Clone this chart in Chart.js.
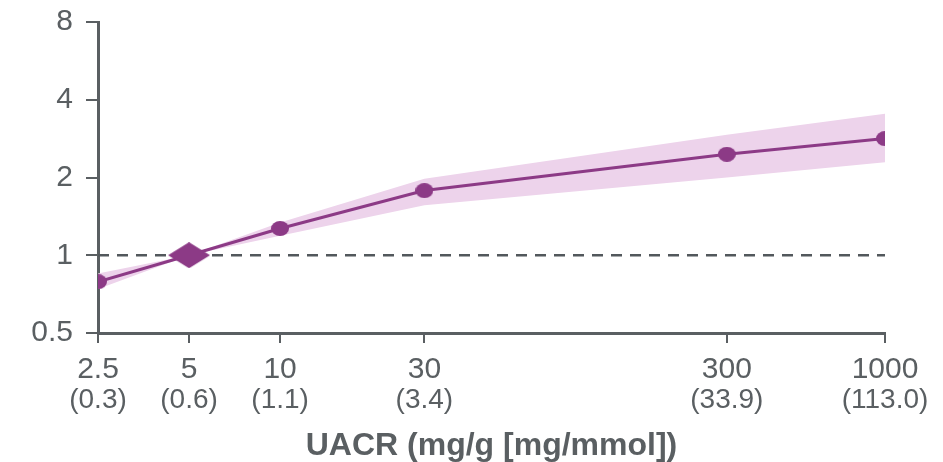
<!DOCTYPE html>
<html>
<head>
<meta charset="utf-8">
<script src="https://cdn.jsdelivr.net/npm/chart.js@4.4.1/dist/chart.umd.min.js"></script>
<style>
  body { margin: 0; background: #ffffff; }
  canvas { display: block; }
</style>
</head>
<body>
<canvas id="chart" width="943" height="462"></canvas>
<script>
const uacrValues = [2.5, 5, 10, 30, 300, 1000];
const mmolLabels = ['(0.3)', '(0.6)', '(1.1)', '(3.4)', '(33.9)', '(113.0)'];
const hazardRatio = [0.79, 1, 1.27, 1.78, 2.46, 2.83];
const lowerCI = [0.74, 1, 1.19, 1.56, 2.0, 2.29];
const upperCI = [0.85, 1, 1.34, 1.98, 2.93, 3.53];
const yTicks = [0.5, 1, 2, 4, 8];
const referenceValue = 1;

const PURPLE = '#8c3a86';
const BAND = '#edd3eb';
const AXIS = '#5a5f62';
const FONT = "'Liberation Sans', Arial, sans-serif";

function makeMarker(w, h, shape) {
    const c = document.createElement('canvas');
    c.width = w;
    c.height = h;
    const ctx = c.getContext('2d');
    ctx.fillStyle = PURPLE;
    ctx.beginPath();
    if (shape === 'diamond') {
        ctx.moveTo(w / 2, 0);
        ctx.lineTo(w, h / 2);
        ctx.lineTo(w / 2, h);
        ctx.lineTo(0, h / 2);
        ctx.closePath();
    } else {
        ctx.ellipse(w / 2, h / 2, w / 2, h / 2, 0, 0, Math.PI * 2);
    }
    ctx.fill();
    return c;
}

const dot = makeMarker(18, 15, 'ellipse');
const diamond = makeMarker(42, 26, 'diamond');

const toPoints = arr => uacrValues.map((x, i) => ({ x: x, y: arr[i] }));

function setTicks(values) {
    return scale => {
        scale.ticks = values.map(v => ({ value: v }));
    };
}

new Chart(document.getElementById('chart'), {
    type: 'line',
    data: {
        datasets: [
            {
                data: toPoints(hazardRatio),
                borderColor: PURPLE,
                borderWidth: 3,
                pointStyle: uacrValues.map(v => v === 5 ? diamond : dot),
                pointRadius: 8,
                fill: false
            },
            {
                data: [{ x: uacrValues[0], y: referenceValue }, { x: uacrValues[uacrValues.length - 1], y: referenceValue }],
                borderColor: '#52585c',
                borderWidth: 2.5,
                borderDash: [11, 8],
                pointRadius: 0,
                fill: false
            },
            {
                data: toPoints(upperCI),
                borderWidth: 0,
                borderColor: 'rgba(0,0,0,0)',
                backgroundColor: BAND,
                pointRadius: 0,
                fill: '+1'
            },
            {
                data: toPoints(lowerCI),
                borderWidth: 0,
                borderColor: 'rgba(0,0,0,0)',
                pointRadius: 0,
                fill: false
            }
        ]
    },
    options: {
        responsive: false,
        animation: false,
        layout: { padding: { top: 22, right: 58, left: 0, bottom: 0 } },
        plugins: {
            legend: { display: false },
            tooltip: { enabled: false }
        },
        scales: {
            x: {
                type: 'logarithmic',
                min: 2.5,
                max: 1000,
                weight: 0,
                afterBuildTicks: setTicks(uacrValues),
                afterFit: scale => { scale.height = 50; },
                border: { display: true, color: AXIS, width: 3 },
                grid: { drawOnChartArea: false, drawTicks: true, tickLength: 10, color: AXIS, lineWidth: 2 },
                ticks: {
                    padding: 9,
                    color: AXIS,
                    font: { family: FONT, size: 30 },
                    maxRotation: 0,
                    autoSkip: false,
                    callback: value => String(value)
                }
            },
            x2: {
                type: 'logarithmic',
                position: 'bottom',
                min: 2.5,
                max: 1000,
                weight: 1,
                afterBuildTicks: setTicks(uacrValues),
                afterFit: scale => { scale.height = 79; },
                border: { display: false },
                grid: { display: false, drawTicks: false },
                ticks: {
                    padding: 0,
                    color: AXIS,
                    font: { family: FONT, size: 28 },
                    maxRotation: 0,
                    autoSkip: false,
                    callback: (value, index) => mmolLabels[index]
                },
                title: {
                    display: true,
                    text: 'UACR (mg/g [mg/mmol])',
                    color: AXIS,
                    font: { family: FONT, size: 32, weight: 'bold', lineHeight: 1 },
                    padding: { top: 0, bottom: 0 }
                }
            },
            y: {
                type: 'logarithmic',
                min: 0.5,
                max: 8,
                afterBuildTicks: setTicks(yTicks),
                afterFit: scale => {
                    scale.width = 98;
                    scale.paddingTop = 0;
                    scale.paddingBottom = 0;
                },
                border: { display: true, color: AXIS, width: 3 },
                grid: { drawOnChartArea: false, drawTicks: true, tickLength: 12, color: AXIS, lineWidth: 2 },
                ticks: {
                    padding: 13,
                    color: AXIS,
                    font: { family: FONT, size: 30 },
                    callback: value => String(value)
                }
            }
        }
    }
});
</script>
</body>
</html>
